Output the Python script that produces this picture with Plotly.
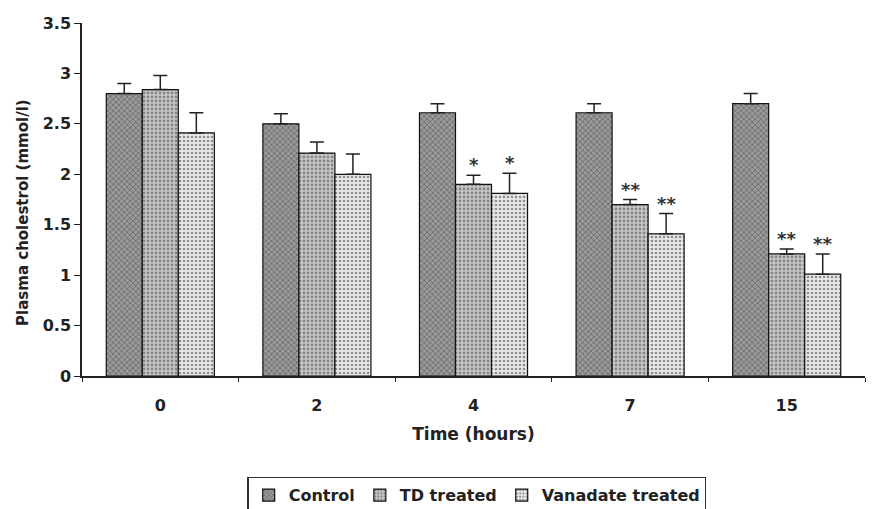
import plotly.graph_objects as go

categories = ["0", "2", "4", "7", "15"]
control = [2.80, 2.50, 2.61, 2.61, 2.70]
control_err = [0.10, 0.10, 0.09, 0.09, 0.10]
td = [2.84, 2.21, 1.90, 1.70, 1.21]
td_err = [0.14, 0.11, 0.09, 0.05, 0.05]
van = [2.41, 2.00, 1.81, 1.41, 1.01]
van_err = [0.20, 0.20, 0.20, 0.20, 0.20]
td_sig = ["", "", "*", "**", "**"]
van_sig = ["", "", "*", "**", "**"]

font_fam = "DejaVu Sans, Verdana, sans-serif"

def bar(name, y, err, bg, fg, shape, size, solidity):
    return go.Bar(
        name=name, x=categories, y=y,
        error_y=dict(type="data", array=err, symmetric=False, arrayminus=[0]*len(err),
                     color="#222", thickness=1.5, width=7),
        marker=dict(color=bg, line=dict(color="#111", width=1.2),
                    pattern=dict(shape=shape, fgcolor=fg, bgcolor=bg, size=size,
                                 solidity=solidity, fillmode="overlay")),
    )

fig = go.Figure()
fig.add_trace(bar("Control", control, control_err, "#9a9a9a", "#333", "x", 4, 0.35))
fig.add_trace(bar("TD treated", td, td_err, "#c8c8c8", "#444", ".", 4, 0.4))
fig.add_trace(bar("Vanadate treated", van, van_err, "#e8e8e8", "#333", ".", 4, 0.35))

bw = 36
for i, c in enumerate(categories):
    for sig, vals, errs, off in ((td_sig, td, td_err, 0), (van_sig, van, van_err, bw)):
        if sig[i]:
            fig.add_annotation(x=i, y=vals[i] + errs[i], xref="x", yref="y",
                               text=sig[i], showarrow=False, xshift=off,
                               yanchor="bottom", yshift=-2,
                               font=dict(size=18, color="#333", family=font_fam))

# y-axis title as a rotated annotation
fig.add_annotation(text="Plasma cholestrol (mmol/l)", xref="paper", yref="paper",
                   x=0, y=0.462, xanchor="center", yanchor="middle", xshift=-59,
                   textangle=-90, showarrow=False,
                   font=dict(size=15, weight="bold", family=font_fam, color="#222"))

fig.update_layout(
    width=872, height=509,
    margin=dict(l=82, r=7, t=23, b=133, autoexpand=False),
    plot_bgcolor="white", paper_bgcolor="white",
    barmode="group", bargap=0.31, bargroupgap=0,
    font=dict(family=font_fam, size=16, color="#222", weight="bold"),
    showlegend=True,
    legend=dict(orientation="h", xref="container", yref="container",
                x=0.547, xanchor="center", y=0.063, yanchor="top",
                bordercolor="#333", borderwidth=1.2, font=dict(size=16, weight="bold"),
                itemwidth=30, tracegroupgap=0),
)
fig.update_xaxes(
    type="category", range=[-0.5, 4.5], showline=True, linecolor="#222", linewidth=1.5,
    ticks="outside", tickson="boundaries", ticklen=4, tickcolor="#222",
    ticklabelstandoff=14, tickfont=dict(size=16),
    title=dict(text="Time (hours)", standoff=14, font=dict(size=17, weight="bold")),
    showgrid=False, zeroline=False, automargin=False,
)
fig.update_yaxes(
    range=[0, 3.5], dtick=0.5, showline=True, linecolor="#222", linewidth=1.5,
    ticks="outside", ticklen=6, tickcolor="#222", tickfont=dict(size=16),
    showgrid=False, zeroline=False, automargin=False,
)

fig.write_html("out.html")
